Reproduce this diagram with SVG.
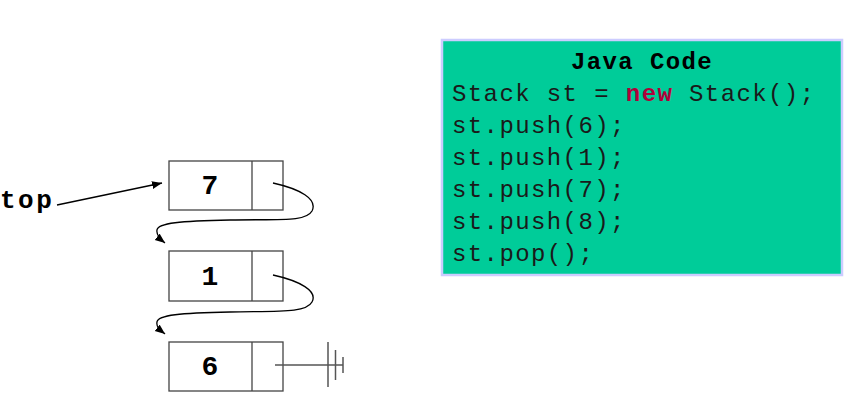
<svg xmlns="http://www.w3.org/2000/svg" width="852" height="413" viewBox="0 0 852 413">
<style>
.cell{fill:#fff;stroke:#444;stroke-width:1.3}
.div{stroke:#444;stroke-width:1.3}
.digit{font-family:"Liberation Mono",monospace;font-weight:bold;font-size:28px;fill:#000;text-anchor:middle}
.code{font-family:"Liberation Mono",monospace;font-size:24px;letter-spacing:1.4px;fill:#1a1a1a}
.conn{fill:none;stroke:#000;stroke-width:1.3}
.nul{stroke:#555;stroke-width:1.5}
</style>
<defs>
<marker id="ah" markerUnits="userSpaceOnUse" markerWidth="12" markerHeight="10" refX="10" refY="4" orient="auto">
<path d="M0,0 L10,4 L0,8 Z" fill="#000"/>
</marker>
</defs>
<rect width="852" height="413" fill="#fff"/>
<g id="code-box">
<rect x="442" y="40" width="400" height="235" fill="#00cc99" stroke="#ccccff" stroke-width="2.5"/>
<text x="642" y="69" class="code" style="font-weight:bold;text-anchor:middle;fill:#000">Java Code</text>
<text x="452" y="101" class="code">Stack st = <tspan fill="#b0003a" font-weight="bold">new</tspan> Stack();</text>
<text x="452" y="133" class="code">st.push(6);</text>
<text x="452" y="165" class="code">st.push(1);</text>
<text x="452" y="197" class="code">st.push(7);</text>
<text x="452" y="229" class="code">st.push(8);</text>
<text x="452" y="261" class="code">st.pop();</text>
</g>
<g id="top-label">
<text x="0" y="208" style="font-family:'Liberation Mono',monospace;font-weight:bold;font-size:26px;letter-spacing:2.5px;fill:#000">top</text>
</g>
<g id="node-7">
<rect class="cell" x="169" y="161" width="114" height="49"/>
<line class="div" x1="252" y1="161" x2="252" y2="210"/>
<text class="digit" x="210" y="194">7</text>
</g>
<g id="node-1">
<rect class="cell" x="169" y="251" width="114" height="50"/>
<line class="div" x1="252" y1="251" x2="252" y2="301"/>
<text class="digit" x="210" y="285">1</text>
</g>
<g id="node-6">
<rect class="cell" x="169" y="342" width="114" height="49"/>
<line class="div" x1="252" y1="342" x2="252" y2="391"/>
<text class="digit" x="210" y="375">6</text>
</g>
<g id="connectors">
<line class="conn" x1="57" y1="205" x2="162" y2="183" marker-end="url(#ah)"/>
<path class="conn" d="M273,183 C300,189 318,199 312,211 C306,222 280,219 230,220 C180,221 158,223 157,230 C156,235 160,239 165,243" marker-end="url(#ah)"/>
<path class="conn" d="M273,275 C300,281 318,291 312,302 C306,313 280,311 230,312 C180,313 158,315 157,322 C156,327 160,330 165,334" marker-end="url(#ah)"/>
<line class="nul" x1="275" y1="365" x2="343" y2="365"/>
<line class="nul" x1="328" y1="342" x2="328" y2="387"/>
<line class="nul" x1="335.5" y1="350" x2="335.5" y2="380"/>
<line class="nul" x1="343" y1="357" x2="343" y2="373"/>
</g>
</svg>
